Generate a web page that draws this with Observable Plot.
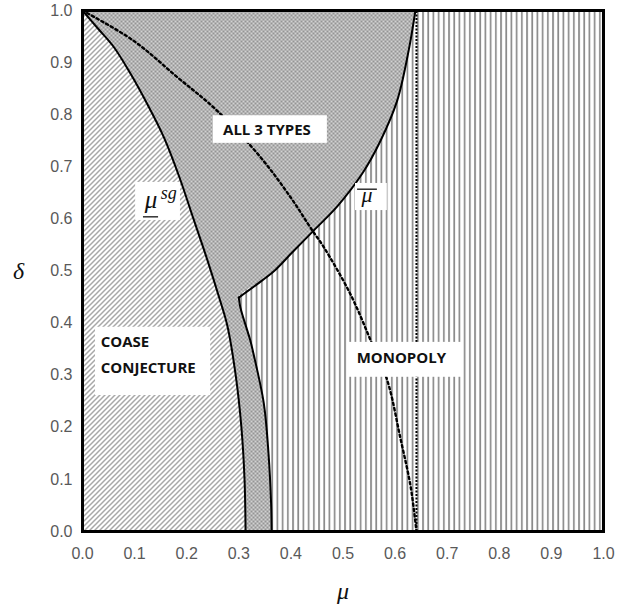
<!DOCTYPE html>
<html>
<head>
<meta charset="utf-8">
<script src="https://cdn.jsdelivr.net/npm/d3@7"></script>
<script src="https://cdn.jsdelivr.net/npm/@observablehq/plot@0.6"></script>
<style>
  html, body { margin: 0; padding: 0; background: #fff; }
</style>
</head>
<body>
<div id="chart"></div>
<script>
// ---- Data (μ on x, δ on y) ----
const tickValues = [0, 0.1, 0.2, 0.3, 0.4, 0.5, 0.6, 0.7, 0.8, 0.9, 1.0];

// μ^sg curve (boundary of Coase conjecture region)
const sgDelta = [1.0, 0.965, 0.93, 0.879, 0.821, 0.757, 0.68, 0.6, 0.52, 0.45, 0.395, 0.3, 0.2, 0.1, 0.0];
const sgMu    = [0.0, 0.03, 0.06, 0.092, 0.124, 0.156, 0.186, 0.213, 0.24, 0.262, 0.278, 0.294, 0.305, 0.311, 0.313];

// lower band boundary (from kink down to δ = 0)
const bandDelta = [0.449, 0.43, 0.367, 0.342, 0.246, 0.15, 0.054, 0.0];
const bandMu    = [0.300, 0.303, 0.322, 0.328, 0.348, 0.357, 0.362, 0.363];

// μ̄ curve (from kink up to δ = 1)
const barDelta = [0.449, 0.482, 0.502, 0.533, 0.578, 0.624, 0.687, 0.750, 0.827, 0.923, 1.0];
const barMu    = [0.300, 0.345, 0.370, 0.400, 0.444, 0.489, 0.537, 0.572, 0.604, 0.626, 0.639];

// dotted curve
const dotMu    = [0, 0.098, 0.182, 0.258, 0.342, 0.399, 0.441, 0.463, 0.514, 0.553, 0.585, 0.61, 0.63, 0.641];
const dotDelta = [1, 0.942, 0.872, 0.808, 0.718, 0.642, 0.578, 0.546, 0.456, 0.367, 0.29, 0.18, 0.085, 0];

// vertical dotted line
const vLineMu = [0.641];

// region labels
const regionText  = ["ALL 3 TYPES", "COASE", "CONJECTURE", "MONOPOLY"];
const regionMu    = [0.354, 0.035, 0.035, 0.612];
const regionDelta = [0.771, 0.363, 0.314, 0.332];
const regionAnchor = ["middle", "start", "start", "middle"];

// white label boxes [μ1, μ2, δ1, δ2]
const boxMu1    = [0.251, 0.025, 0.509, 0.102, 0.524];
const boxMu2    = [0.470, 0.246, 0.729, 0.188, 0.585];
const boxDelta1 = [0.745, 0.261, 0.296, 0.597, 0.616];
const boxDelta2 = [0.798, 0.392, 0.363, 0.670, 0.668];

// curve symbol labels
const symText  = ["μ", "sg", "μ"];
const symMu    = [0.1315, 0.150, 0.546];
const symDelta = [0.620, 0.638, 0.633];
const symSize  = [25, 18, 22];
const symAnchor = ["middle", "start", "middle"];
// underline (μ^sg) and overbar (μ̄)
const barLineMu1 = [0.117, 0.528];
const barLineMu2 = [0.146, 0.566];
const barLineDelta = [0.604, 0.657];

// ---- Derived tables ----
const sg = sgMu.map((m, i) => ({mu: m, delta: sgDelta[i]}));
const band = bandMu.map((m, i) => ({mu: m, delta: bandDelta[i]}));
const bar = barMu.map((m, i) => ({mu: m, delta: barDelta[i]}));
const dots = dotMu.map((m, i) => ({mu: m, delta: dotDelta[i]}));
const monoEdge = band.slice().reverse().concat(bar.slice(1));
const regions = regionText.map((t, i) => ({t, mu: regionMu[i], delta: regionDelta[i], a: regionAnchor[i]}));
const boxes = boxMu1.map((m, i) => ({x1: m, x2: boxMu2[i], y1: boxDelta1[i], y2: boxDelta2[i]}));
const syms = symText.map((t, i) => ({t, mu: symMu[i], delta: symDelta[i], s: symSize[i], a: symAnchor[i]}));
const symLines = barLineMu1.map((m, i) => ({x1: m, x2: barLineMu2[i], y: barLineDelta[i]}));

const serif = "'Liberation Serif', 'DejaVu Serif', serif";
const bold = "'Open Sans', 'Liberation Sans', sans-serif";

const regionOpts = {x: "mu", y: "delta", text: "t", fontFamily: bold, fontWeight: "bold", fontSize: 15, fill: "#111", lineAnchor: "middle"};
const symOpts = {x: "mu", y: "delta", text: "t", fontFamily: serif, fontStyle: "italic", fontSize: "s", fill: "#111", lineAnchor: "bottom"};

const chart = Plot.plot({
  width: 621,
  height: 610,
  marginLeft: 82,
  marginRight: 18,
  marginTop: 10,
  marginBottom: 79,
  style: {fontFamily: "'Liberation Sans', Arial, sans-serif", fontSize: "16px", color: "#595959", background: "white"},
  x: {domain: [0, 1], ticks: tickValues, tickFormat: d3.format(".1f"), tickSize: 0, tickPadding: 16, label: null},
  y: {domain: [0, 1], ticks: tickValues, tickFormat: d3.format(".1f"), tickSize: 0, tickPadding: 10, label: null},
  marks: [
    Plot.frame({fill: "url(#checker)", stroke: "none"}),
    Plot.areaX(sg, {y: "delta", x1: 0, x2: "mu", fill: "url(#diag)", curve: "catmull-rom"}),
    Plot.areaX(monoEdge, {y: "delta", x1: "mu", x2: 1, fill: "url(#vert)", curve: "catmull-rom"}),
    Plot.line(dots, {x: "mu", y: "delta", stroke: "black", strokeWidth: 2.4, strokeDasharray: "2.4,3", curve: "catmull-rom"}),
    Plot.ruleX(vLineMu, {y1: 0, y2: 1, stroke: "black", strokeWidth: 2, strokeDasharray: "2,1.5"}),
    Plot.line(sg, {x: "mu", y: "delta", stroke: "black", strokeWidth: 2, curve: "catmull-rom"}),
    Plot.line(band, {x: "mu", y: "delta", stroke: "black", strokeWidth: 2, curve: "catmull-rom"}),
    Plot.line(bar, {x: "mu", y: "delta", stroke: "black", strokeWidth: 2, curve: "catmull-rom"}),
    Plot.rect(boxes, {x1: "x1", x2: "x2", y1: "y1", y2: "y2", fill: "white"}),
    Plot.text(regions, {...regionOpts, filter: d => d.a === "middle", textAnchor: "middle"}),
    Plot.text(regions, {...regionOpts, filter: d => d.a === "start", textAnchor: "start"}),
    Plot.text(syms, {...symOpts, filter: d => d.a === "middle", textAnchor: "middle"}),
    Plot.text(syms, {...symOpts, filter: d => d.a === "start", textAnchor: "start"}),
    Plot.ruleY(symLines, {x1: "x1", x2: "x2", y: "y", stroke: "#222", strokeWidth: 1.4}),
    Plot.text(["δ"], {frameAnchor: "left", dx: -64, fontFamily: serif, fontStyle: "italic", fontSize: 24, fill: "#111", textAnchor: "middle"}),
    Plot.text(["μ"], {frameAnchor: "bottom", dy: 60, fontFamily: serif, fontStyle: "italic", fontSize: 24, fill: "#111", textAnchor: "middle", lineAnchor: "middle"}),
    Plot.frame({stroke: "black", strokeWidth: 3})
  ]
});

// pattern definitions
const defs = d3.select(chart).insert("defs", ":first-child");
const diag = defs.append("pattern").attr("id", "diag").attr("patternUnits", "userSpaceOnUse").attr("width", 5).attr("height", 5);
diag.append("rect").attr("width", 5).attr("height", 5).attr("fill", "white");
diag.append("path").attr("d", "M-1,1 L1,-1 M0,5 L5,0 M4,6 L6,4").attr("stroke", "#a8a8a8").attr("stroke-width", 1.5);

const checker = defs.append("pattern").attr("id", "checker").attr("patternUnits", "userSpaceOnUse").attr("width", 4).attr("height", 4);
checker.append("rect").attr("width", 4).attr("height", 4).attr("fill", "#d2d2d2");
checker.append("rect").attr("width", 2).attr("height", 2).attr("fill", "#949494");
checker.append("rect").attr("x", 2).attr("y", 2).attr("width", 2).attr("height", 2).attr("fill", "#949494");

const vert = defs.append("pattern").attr("id", "vert").attr("patternUnits", "userSpaceOnUse").attr("width", 5.2).attr("height", 10);
vert.append("rect").attr("width", 5.2).attr("height", 10).attr("fill", "white");
vert.append("rect").attr("x", 1).attr("width", 1.7).attr("height", 10).attr("fill", "#8a8a8a");

document.getElementById("chart").appendChild(chart);
</script>
</body>
</html>
